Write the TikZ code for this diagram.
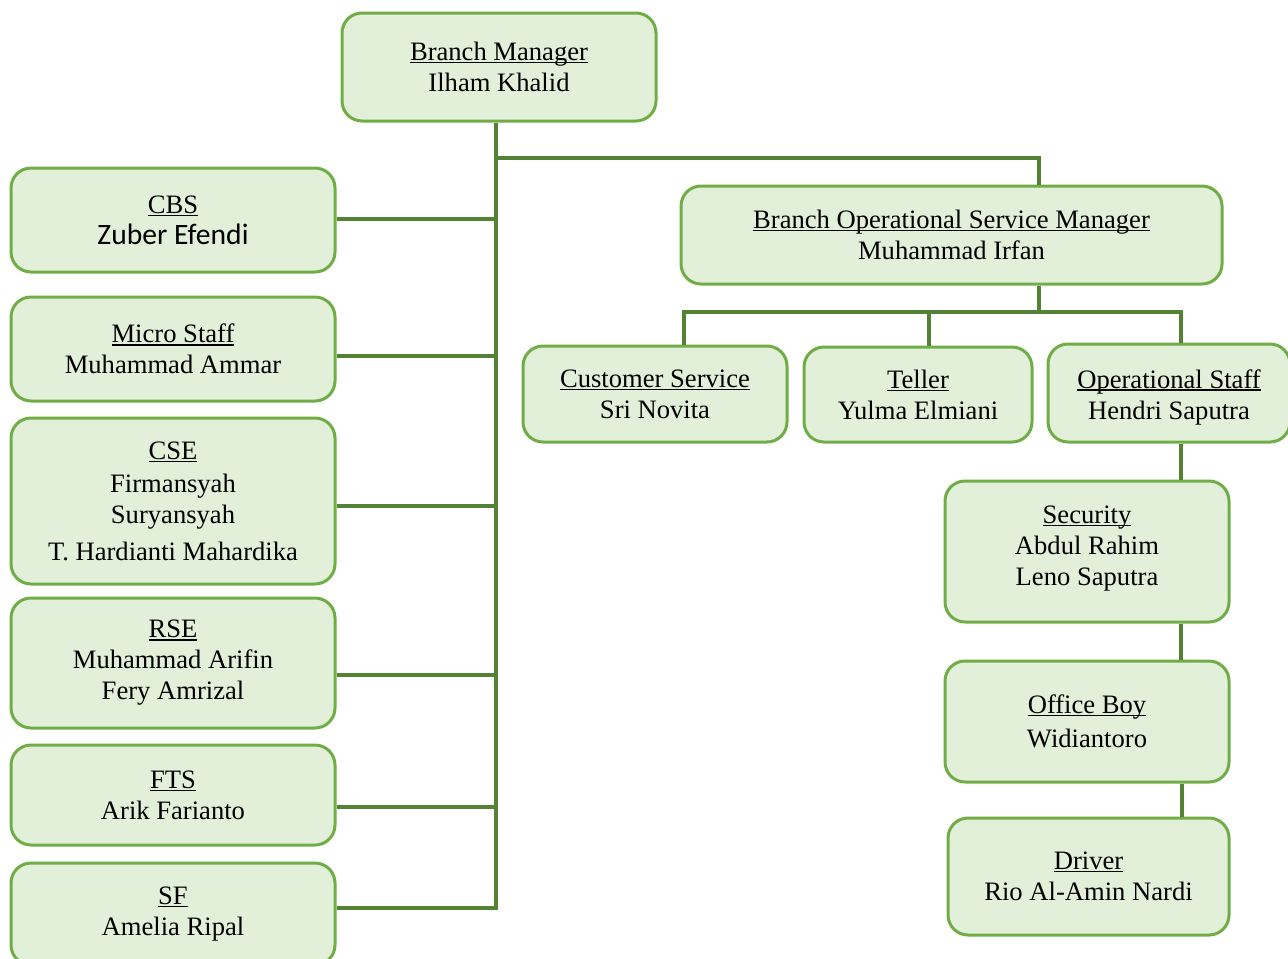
\documentclass[tikz,border=0pt]{standalone}
\usepackage{fontspec}
\setmainfont{Liberation Serif}
\newfontfamily\calibrifont{Carlito}

\newsavebox{\ulbox}
\newcommand{\uln}[1]{\leavevmode\sbox{\ulbox}{#1}\rlap{\rule[-1.4pt]{\wd\ulbox}{0.7pt}}\usebox{\ulbox}}

\definecolor{boxline}{HTML}{70AD47}
\definecolor{boxfill}{HTML}{E2EFD9}
\definecolor{linkline}{HTML}{548235}

\tikzset{
    unit/.style={draw=boxline, fill=boxfill, line width=1.5pt, rounded corners=10pt,
        align=center, inner sep=0pt, font=\fontsize{13.3}{15.5}\selectfont},
    link/.style={draw=linkline, line width=2pt},
}

\begin{document}
\begin{tikzpicture}[x=0.5pt, y=-0.5pt]
        \useasboundingbox (0,0) rectangle (1288,958);

        % top
        \node[unit, minimum width=157pt, minimum height=54pt] (bm) at (499,67)
            {\uln{Branch Manager}\\Ilham Khalid};

        % left column
        \node[unit, minimum width=162pt, minimum height=52pt] (cbs) at (173,220)
            {\uln{CBS}\\{\calibrifont\fontsize{14.8}{15.5}\selectfont Zuber Efendi}};
        \node[unit, minimum width=162pt, minimum height=52pt] (micro) at (173,349)
            {\uln{Micro Staff}\\Muhammad Ammar};
        \node[unit, minimum width=162pt, minimum height=83pt] (cse) at (173,501)
            {\uln{CSE}\\[1pt]Firmansyah\\Suryansyah\\[3pt]T. Hardianti Mahardika};
        \node[unit, minimum width=162pt, minimum height=65pt] (rse) at (173,663)
            {\uln{RSE}\\Muhammad Arifin\\Fery Amrizal};
        \node[unit, minimum width=162pt, minimum height=50pt] (fts) at (173,795)
            {\uln{FTS}\\Arik Farianto};
        \node[unit, minimum width=162pt, minimum height=51pt] (sf) at (173,914)
            {\uln{SF}\\Amelia Ripal};

        % operational side
        \node[unit, minimum width=270.5pt, minimum height=49pt] (bosm) at (951.5,235)
            {\uln{Branch Operational Service Manager}\\Muhammad Irfan};
        \node[unit, minimum width=132pt, minimum height=48pt] (cs) at (655,394)
            {\uln{Customer Service}\\Sri Novita};
        \node[unit, minimum width=114pt, minimum height=47.5pt] (teller) at (918,394.5)
            {\uln{Teller}\\Yulma Elmiani};
        \node[unit, minimum width=121pt, minimum height=49pt] (ops) at (1169,393)
            {\rule{0pt}{13.4pt}\uln{Operational Staff}\\Hendri Saputra};
        \node[unit, minimum width=142pt, minimum height=70.5pt] (sec) at (1087,551.5)
            {\uln{Security}\\Abdul Rahim\\Leno Saputra\\[-9.5pt]};
        \node[unit, minimum width=142pt, minimum height=60.5pt] (ob) at (1087,721.5)
            {\uln{Office Boy}\\[1.5pt]Widiantoro};
        \node[unit, minimum width=140.5pt, minimum height=58.5pt] (drv) at (1088.5,876.5)
            {\uln{Driver}\\Rio Al-Amin Nardi};

        % lines
        \coordinate (jbm) at (496,158);
        \coordinate (jbosm) at (1039,158);
        \coordinate (jsf) at (496,908);
        \coordinate (jops) at (1039,312);

        \draw[link] (bm.south -| jbm) -- (jsf) -- (sf.east |- jsf);
        \foreach \n/\y in {cbs/219, micro/356, cse/506, rse/675, fts/807}
            \draw[link] (\n.east |- 0,\y) -- (jbm |- 0,\y);

        \draw[link] (jbm) -- (jbosm) -- (bosm.north -| jbosm);
        \draw[link] (bosm.south -| jops) -- (jops);
        \draw[link] (cs.north -| 684,0) |- (jops) -| (ops.north -| 1181,0);
        \draw[link] (teller.north -| 929,0) -- (jops -| 929,0);

        \draw[link] (ops.south -| 1181,0) -- (sec.north -| 1181,0);
        \draw[link] (sec.south -| 1181,0) -- (ob.north -| 1181,0);
        \draw[link] (ob.south -| 1182,0) -- (drv.north -| 1182,0);
\end{tikzpicture}
\end{document}
